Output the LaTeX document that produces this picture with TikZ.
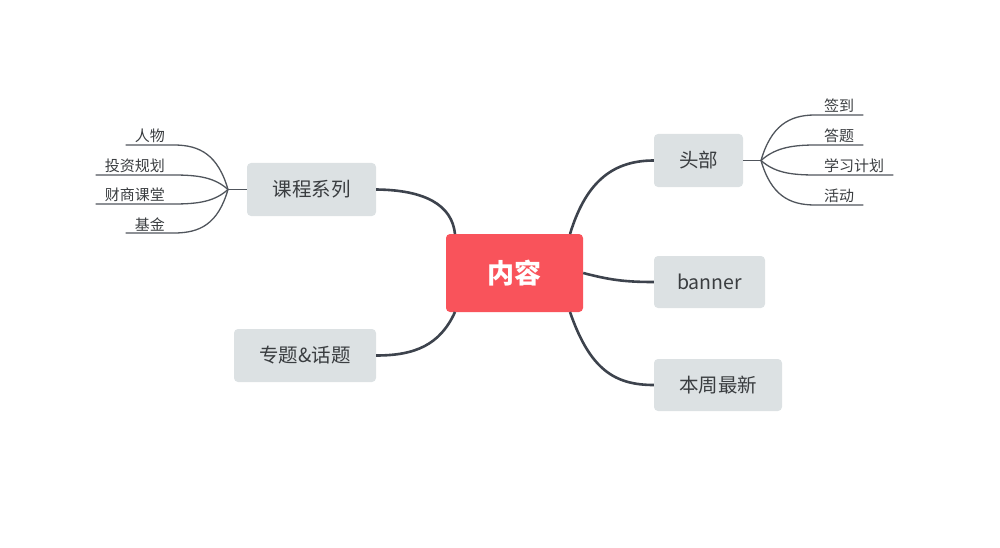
\documentclass[tikz,border=0pt]{standalone}
\usepackage{fontspec}
\setmainfont{Noto Sans CJK SC}
\definecolor{rootred}{HTML}{F9535B}
\definecolor{boxgray}{HTML}{DCE1E3}
\definecolor{linedark}{HTML}{3D434D}
\definecolor{leafline}{HTML}{50555C}
\definecolor{txt}{HTML}{3A3D40}
\begin{document}
\begin{tikzpicture}[x=1pt,y=-1pt,
  rootbox/.style={fill=rootred,rounded corners=4pt,text=white,font=\fontsize{27}{31}\selectfont\bfseries,inner sep=0pt},
  topicbox/.style={fill=boxgray,rounded corners=4pt,text=txt,font=\fontsize{19.5}{23}\selectfont,inner sep=0pt},
  leaf/.style={text=txt,font=\fontsize{15}{17}\selectfont,inner xsep=9pt,inner ysep=2pt},
  mainline/.style={draw=linedark,line width=2.6pt},
  leafline/.style={draw=leafline,line width=1.3pt}]
\useasboundingbox (0,0) rectangle (1000,548);
% root
\node[rootbox,minimum width=137pt,minimum height=78pt] (root) at (514.5,273) {内容};
% topics
\node[topicbox,minimum width=129pt,minimum height=53pt] (kc) at (311.5,189.5) {课程系列};
\node[topicbox,minimum width=142pt,minimum height=53pt] (zt) at (305,355.5) {专题\&话题};
\node[topicbox,minimum width=89pt,minimum height=53pt] (tb) at (698.5,160.5) {头部};
\node[topicbox,minimum width=111pt,minimum height=52pt] (bn) at (709.5,282) {banner};
\node[topicbox,minimum width=128pt,minimum height=52pt] (bz) at (718,385) {本周最新};
% main connectors
\coordinate (r1) at (455,234);
\coordinate (r2) at (455,312);
\coordinate (r3) at (570,234);
\coordinate (r4) at (570,312);
\draw[mainline] (r1) .. controls (452,205) and (425,190) .. (kc.east);
\draw[mainline] (r2) .. controls (440,345) and (415,355.5) .. (zt.east);
\draw[mainline] (r3) .. controls (585,185) and (610,160.5) .. (tb.west);
\draw[mainline] (root.east) .. controls (610,280) and (625,282) .. (bn.west);
\draw[mainline] (r4) .. controls (590,370) and (615,385) .. (bz.west);
% left leaves
\coordinate (lh) at (228,189.5);
\draw[leafline] (kc.west) -- (lh);
\node[leaf,anchor=south east] (l1) at (174,145) {人物};
\node[leaf,anchor=south east] (l2) at (174,175) {投资规划};
\node[leaf,anchor=south east] (l3) at (174,204) {财商课堂};
\node[leaf,anchor=south east] (l4) at (174,233) {基金};
\draw[leafline] (lh) .. controls (218,155) and (200,145) .. (l1.south east) -- (l1.south west);
\draw[leafline] (lh) .. controls (215,178) and (200,175) .. (l2.south east) -- (l2.south west);
\draw[leafline] (lh) .. controls (215,201) and (200,204) .. (l3.south east) -- (l3.south west);
\draw[leafline] (lh) .. controls (218,224) and (200,233) .. (l4.south east) -- (l4.south west);
% right leaves
\coordinate (rh) at (761,160.5);
\draw[leafline] (tb.east) -- (rh);
\node[leaf,anchor=south west] (s1) at (815,115) {签到};
\node[leaf,anchor=south west] (s2) at (815,145) {答题};
\node[leaf,anchor=south west] (s3) at (815,175) {学习计划};
\node[leaf,anchor=south west] (s4) at (815,205) {活动};
\draw[leafline] (rh) .. controls (771,126) and (789,115) .. (s1.south west) -- (s1.south east);
\draw[leafline] (rh) .. controls (774,149) and (789,145) .. (s2.south west) -- (s2.south east);
\draw[leafline] (rh) .. controls (774,172) and (789,175) .. (s3.south west) -- (s3.south east);
\draw[leafline] (rh) .. controls (771,195) and (789,205) .. (s4.south west) -- (s4.south east);
\end{tikzpicture}
\end{document}
